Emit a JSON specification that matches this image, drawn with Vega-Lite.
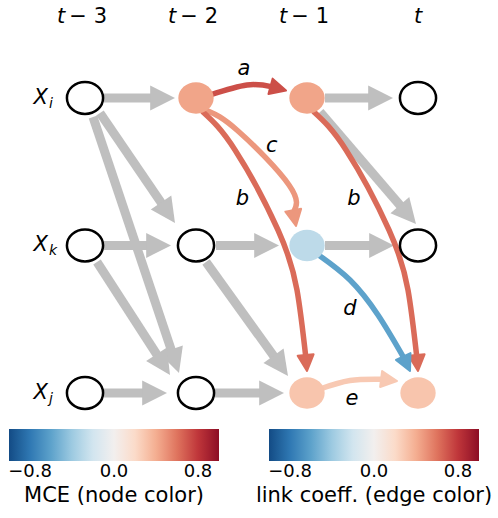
{
  "$schema": "https://vega.github.io/schema/vega-lite/v6.json",
  "width": 498,
  "height": 518,
  "autosize": {"type": "none"},
  "padding": 0,
  "background": "white",
  "config": {
    "view": {"stroke": null},
    "text": {"font": "DejaVu Sans", "color": "black"},
    "legend": {
      "labelFont": "DejaVu Sans", "labelFontSize": 18, "labelColor": "black",
      "titleFont": "DejaVu Sans", "titleFontSize": 21, "titleFontWeight": "normal", "titleColor": "black",
      "gradientStrokeWidth": 0, "labelOffset": 15, "titlePadding": 4, "padding": 0, "labelOverlap": false,
      "titleLimit": 0, "labelLimit": 0
    }
  },
  "datasets": {
    "gray": [
      {"id": "g1", "o": 0, "lag": -2.8288, "row": 0}, {"id": "g1", "o": 1, "lag": -2.3874, "row": 0},
      {"id": "g2", "o": 0, "lag": -0.8378, "row": 0}, {"id": "g2", "o": 1, "lag": -0.4234, "row": 0},
      {"id": "g3", "o": 0, "lag": -2.8288, "row": 1}, {"id": "g3", "o": 1, "lag": -2.4234, "row": 1},
      {"id": "g4", "o": 0, "lag": -1.8198, "row": 1}, {"id": "g4", "o": 1, "lag": -1.4505, "row": 1},
      {"id": "g5", "o": 0, "lag": -0.8378, "row": 1}, {"id": "g5", "o": 1, "lag": -0.4144, "row": 1},
      {"id": "g6", "o": 0, "lag": -2.8288, "row": 2}, {"id": "g6", "o": 1, "lag": -2.4595, "row": 2},
      {"id": "g7", "o": 0, "lag": -1.8288, "row": 2}, {"id": "g7", "o": 1, "lag": -1.4054, "row": 2},
      {"id": "d1", "o": 0, "lag": -2.8649, "row": 0.1017}, {"id": "d1", "o": 1, "lag": -2.3009, "row": 0.7241},
      {"id": "d2", "o": 0, "lag": -2.9279, "row": 0.1288}, {"id": "d2", "o": 1, "lag": -2.2162, "row": 1.7227},
      {"id": "d3", "o": 0, "lag": -2.8919, "row": 1.1119}, {"id": "d3", "o": 1, "lag": -2.3414, "row": 1.7525},
      {"id": "d4", "o": 0, "lag": -0.8829, "row": 0.0949}, {"id": "d4", "o": 1, "lag": -0.1468, "row": 0.741},
      {"id": "d5", "o": 0, "lag": -1.9099, "row": 1.1119}, {"id": "d5", "o": 1, "lag": -1.2865, "row": 1.7634}
    ],
    "grayheads": [
      {"lag": -2.1892, "row": 0, "heading": 90},
      {"lag": -0.2252, "row": 0, "heading": 90},
      {"lag": -2.2252, "row": 1, "heading": 90},
      {"lag": -1.2523, "row": 1, "heading": 90},
      {"lag": -0.2162, "row": 1, "heading": 90},
      {"lag": -2.2613, "row": 2, "heading": 90},
      {"lag": -1.2072, "row": 2, "heading": 90},
      {"lag": -2.1892, "row": 0.8475, "heading": 145.7},
      {"lag": -2.1532, "row": 1.8644, "heading": 161.4},
      {"lag": -2.2342, "row": 1.878, "heading": 147.1},
      {"lag": -0.018, "row": 0.8542, "heading": 139.4},
      {"lag": -1.1712, "row": 1.8847, "heading": 144.3}
    ],
    "links": [
      {"id": "a", "o": 0, "lag": -1.8739, "row": -0.0203, "coef": 0.72},
      {"id": "a", "o": 1, "lag": -1.5405, "row": -0.0881, "coef": 0.72},
      {"id": "a", "o": 2, "lag": -1.3108, "row": -0.0753, "coef": 0.72},
      {"id": "c", "o": 0, "lag": -1.8919, "row": 0.0881, "coef": 0.48},
      {"id": "c", "o": 1, "lag": -1.6216, "row": 0.2237, "coef": 0.48},
      {"id": "c", "o": 2, "lag": -1.1622, "row": 0.5898, "coef": 0.48},
      {"id": "c", "o": 3, "lag": -1.1207, "row": 0.7742, "coef": 0.48},
      {"id": "b1", "o": 0, "lag": -1.9369, "row": 0.0949, "coef": 0.63},
      {"id": "b1", "o": 1, "lag": -1.6486, "row": 0.3525, "coef": 0.63},
      {"id": "b1", "o": 2, "lag": -1.2613, "row": 0.8949, "coef": 0.63},
      {"id": "b1", "o": 3, "lag": -1.0901, "row": 1.3017, "coef": 0.63},
      {"id": "b1", "o": 4, "lag": -1.0108, "row": 1.7566, "coef": 0.63},
      {"id": "b2", "o": 0, "lag": -0.9369, "row": 0.0949, "coef": 0.63},
      {"id": "b2", "o": 1, "lag": -0.6486, "row": 0.3525, "coef": 0.63},
      {"id": "b2", "o": 2, "lag": -0.2613, "row": 0.8949, "coef": 0.63},
      {"id": "b2", "o": 3, "lag": -0.0901, "row": 1.3017, "coef": 0.63},
      {"id": "b2", "o": 4, "lag": -0.0108, "row": 1.7566, "coef": 0.63},
      {"id": "d", "o": 0, "lag": -0.8829, "row": 1.0712, "coef": -0.6},
      {"id": "d", "o": 1, "lag": -0.6126, "row": 1.2339, "coef": -0.6},
      {"id": "d", "o": 2, "lag": -0.3604, "row": 1.4712, "coef": -0.6},
      {"id": "d", "o": 3, "lag": -0.1252, "row": 1.7647, "coef": -0.6},
      {"id": "e", "o": 0, "lag": -0.8829, "row": 1.9729, "coef": 0.28},
      {"id": "e", "o": 1, "lag": -0.6126, "row": 1.9153, "coef": 0.28},
      {"id": "e", "o": 2, "lag": -0.3144, "row": 1.9071, "coef": 0.28}
    ],
    "linkheads": [
      {"lag": -1.1892, "row": -0.0508, "heading": 105, "coef": 0.72},
      {"lag": -1.0991, "row": 0.8678, "heading": 170, "coef": 0.48},
      {"lag": -1.0, "row": 1.8508, "heading": 175, "coef": 0.63},
      {"lag": 0.0, "row": 1.8508, "heading": 175, "coef": 0.63},
      {"lag": -0.0721, "row": 1.8508, "heading": 155, "coef": -0.6},
      {"lag": -0.1892, "row": 1.9186, "heading": 97, "coef": 0.28}
    ],
    "whitenodes": [
      {"lag": -3, "row": 0}, {"lag": 0, "row": 0},
      {"lag": -3, "row": 1}, {"lag": -2, "row": 1}, {"lag": 0, "row": 1},
      {"lag": -3, "row": 2}, {"lag": -2, "row": 2}
    ],
    "mcenodes": [
      {"lag": -2, "row": 0, "mce": 0.43},
      {"lag": -1, "row": 0, "mce": 0.43},
      {"lag": -1, "row": 1, "mce": -0.28},
      {"lag": -1, "row": 2, "mce": 0.3},
      {"lag": 0, "row": 2, "mce": 0.3}
    ],
    "linklabels": [
      {"lag": -1.5676, "row": -0.1559, "label": "a"},
      {"lag": -1.5811, "row": 0.7254, "label": "b"},
      {"lag": -0.5766, "row": 0.7254, "label": "b"},
      {"lag": -1.318, "row": 0.3641, "label": "c"},
      {"lag": -0.6126, "row": 1.4712, "label": "d"},
      {"lag": -0.5946, "row": 2.0814, "label": "e"}
    ],
    "headers": [
      {"lag": -3, "row": -0.5105, "k": "− 3"},
      {"lag": -2, "row": -0.5105, "k": "− 2"},
      {"lag": -1, "row": -0.5105, "k": "− 1"}
    ],
    "headert": [
      {"lag": 0, "row": -0.5105}
    ],
    "vars": [
      {"lag": -3, "row": 0, "sub": "i"},
      {"lag": -3, "row": 1, "sub": "k"},
      {"lag": -3, "row": 2, "sub": "j"}
    ]
  },
  "encoding": {
    "x": {"field": "lag", "type": "quantitative", "axis": null,
      "scale": {"domain": [-3.7658, 0.7207], "nice": false, "zero": false}},
    "y": {"field": "row", "type": "quantitative", "axis": null,
      "scale": {"domain": [-0.6644, 2.8475], "nice": false, "zero": false, "reverse": true}}
  },
  "layer": [
    {
      "data": {"name": "gray"},
      "mark": {"type": "line", "stroke": "#bfbfbf", "strokeWidth": 9, "strokeCap": "butt"},
      "encoding": {"detail": {"field": "id"}, "order": {"field": "o"}}
    },
    {
      "data": {"name": "grayheads"},
      "mark": {"type": "point", "shape": "M 0 0 L 1 2 L -1 2 Z", "size": 615, "filled": true, "fill": "#bfbfbf", "opacity": 1, "strokeWidth": 0},
      "encoding": {"angle": {"field": "heading", "type": "quantitative", "scale": null}}
    },
    {
      "data": {"name": "links"},
      "mark": {"type": "line", "strokeWidth": 5.5, "strokeCap": "round", "interpolate": "natural"},
      "encoding": {
        "detail": {"field": "id"},
        "order": {"field": "o"},
        "stroke": {"field": "coef", "type": "quantitative",
          "scale": {"domain": [-1.0001, 1.0001], "scheme": {"name": "redblue", "extent": [1, 0]}},
          "legend": {"type": "gradient", "title": "link coeff. (edge color)", "orient": "none", "legendX": 256, "legendY": 429,
            "direction": "horizontal", "gradientLength": 210, "gradientThickness": 32,
            "values": [-0.8, 0, 0.8], "format": ".1f", "titleOrient": "bottom", "titleAnchor": "middle"}}
      }
    },
    {
      "data": {"name": "linkheads"},
      "mark": {"type": "point", "shape": "M 0 0 L 1 2 L -1 2 Z", "size": 256, "filled": true, "opacity": 1, "strokeWidth": 2, "strokeJoin": "round"},
      "encoding": {
        "angle": {"field": "heading", "type": "quantitative", "scale": null},
        "color": {"field": "coef", "type": "quantitative",
          "scale": {"domain": [-1.0002, 1.0002], "scheme": {"name": "redblue", "extent": [1, 0]}}, "legend": null},
        "stroke": {"field": "coef", "type": "quantitative",
          "scale": {"domain": [-1.0001, 1.0001], "scheme": {"name": "redblue", "extent": [1, 0]}}}
      }
    },
    {
      "data": {"name": "whitenodes"},
      "mark": {"type": "point", "shape": "M -1.13 0 C -1.13 -0.552 -0.624 -1 0 -1 C 0.624 -1 1.13 -0.552 1.13 0 C 1.13 0.552 0.624 1 0 1 C -0.624 1 -1.13 0.552 -1.13 0 Z",
        "size": 1024, "filled": true, "fill": "white", "stroke": "black", "strokeWidth": 2.5, "opacity": 1}
    },
    {
      "data": {"name": "mcenodes"},
      "mark": {"type": "point", "shape": "M -1.13 0 C -1.13 -0.552 -0.624 -1 0 -1 C 0.624 -1 1.13 -0.552 1.13 0 C 1.13 0.552 0.624 1 0 1 C -0.624 1 -1.13 0.552 -1.13 0 Z",
        "size": 980, "filled": true, "strokeWidth": 0, "opacity": 1},
      "encoding": {
        "fill": {"field": "mce", "type": "quantitative",
          "scale": {"domain": [-1, 1], "scheme": {"name": "redblue", "extent": [1, 0]}},
          "legend": {"type": "gradient", "title": "MCE (node color)", "orient": "none", "legendX": 9, "legendY": 429,
            "direction": "horizontal", "gradientLength": 210, "gradientThickness": 32,
            "values": [-0.8, 0, 0.8], "format": ".1f", "titleOrient": "bottom", "titleAnchor": "middle"}}
      }
    },
    {
      "data": {"name": "linklabels"},
      "mark": {"type": "text", "fontSize": 21, "fontStyle": "italic", "align": "center", "baseline": "alphabetic"},
      "encoding": {"text": {"field": "label"}}
    },
    {
      "data": {"name": "headers"},
      "mark": {"type": "text", "text": "t", "fontSize": 21, "fontStyle": "italic", "align": "left", "dx": -28, "baseline": "alphabetic"}
    },
    {
      "data": {"name": "headert"},
      "mark": {"type": "text", "text": "t", "fontSize": 21, "fontStyle": "italic", "align": "center", "baseline": "alphabetic"}
    },
    {
      "data": {"name": "headers"},
      "mark": {"type": "text", "fontSize": 21, "align": "right", "dx": 22, "baseline": "alphabetic"},
      "encoding": {"text": {"field": "k"}}
    },
    {
      "data": {"name": "vars"},
      "mark": {"type": "text", "text": "X", "fontSize": 21, "fontStyle": "italic", "align": "right", "dx": -37, "dy": 6, "baseline": "alphabetic"}
    },
    {
      "data": {"name": "vars"},
      "mark": {"type": "text", "fontSize": 14, "fontStyle": "italic", "align": "left", "dx": -36, "dy": 10, "baseline": "alphabetic"},
      "encoding": {"text": {"field": "sub"}}
    }
  ]
}
